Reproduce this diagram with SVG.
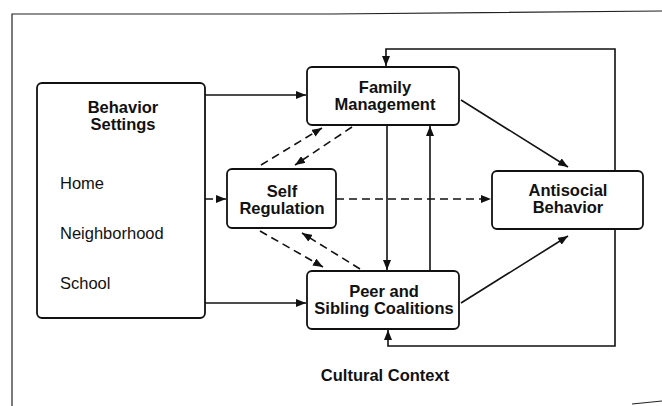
<svg xmlns="http://www.w3.org/2000/svg" width="662" height="406" viewBox="0 0 662 406">
<defs>
<marker id="ah" viewBox="0 0 10 8" refX="10" refY="4" markerWidth="10" markerHeight="8" markerUnits="userSpaceOnUse" orient="auto">
<path d="M0,0 L10,4 L0,8 z" fill="#111"/>
</marker>
<style>
.box{fill:#fff;stroke:#111;stroke-width:1.8}
.t{font-family:"Liberation Sans",Arial,sans-serif;font-size:16.5px;font-weight:bold;fill:#111;text-anchor:middle}
.r{font-family:"Liberation Sans",Arial,sans-serif;font-size:16.5px;fill:#111}
.ln{fill:none;stroke:#111;stroke-width:1.6;marker-end:url(#ah)}
.pl{fill:none;stroke:#111;stroke-width:1.6}
.ds{fill:none;stroke:#111;stroke-width:1.6;stroke-dasharray:8 5;marker-end:url(#ah)}
.fr{fill:none;stroke:#222;stroke-width:1.2}
</style>
</defs>
<rect width="662" height="406" fill="#fff"/>
<g id="frame">
<path class="fr" d="M12,406 L12,14 L330,14 L662,11"/>
<path class="fr" d="M632,404 L662,401"/>
</g>
<g id="connectors">
<path class="ln" d="M205,95 L306,95"/>
<path class="ln" d="M205,303 L306,303"/>
<path class="ds" d="M205,199 L226,199"/>
<path class="ds" d="M336,199 L491,199"/>
<path class="ln" d="M387,125 L387,270"/>
<path class="ln" d="M430,271 L430,126"/>
<path class="ln" d="M461,100 L568,167"/>
<path class="ln" d="M461,303 L568,236"/>
<path class="ln" d="M615,171 L615,49 L386,49 L386,66"/>
<path class="ln" d="M615,229 L615,346 L388,346 L388,330"/>
<path class="ds" d="M261,165 L322,128"/>
<path class="ds" d="M352,127 L295,165"/>
<path class="ds" d="M260,231 L323,267"/>
<path class="ds" d="M360,269 L302,233"/>
</g>
<g id="behavior-settings">
<rect class="box" x="37" y="83" width="168" height="235" rx="5"/>
<text class="t" x="123" y="113">Behavior</text>
<text class="t" x="123" y="130">Settings</text>
<text class="r" x="60" y="189">Home</text>
<text class="r" x="60" y="239">Neighborhood</text>
<text class="r" x="60" y="289">School</text>
</g>
<g id="family-management">
<rect class="box" x="307" y="67" width="152" height="58" rx="5"/>
<text class="t" x="385" y="93">Family</text>
<text class="t" x="385" y="110">Management</text>
</g>
<g id="self-regulation">
<rect class="box" x="227" y="169" width="109" height="59" rx="5"/>
<text class="t" x="282" y="197">Self</text>
<text class="t" x="282" y="214">Regulation</text>
</g>
<g id="antisocial-behavior">
<rect class="box" x="492" y="171" width="151" height="58" rx="5"/>
<text class="t" x="568" y="196">Antisocial</text>
<text class="t" x="568" y="213">Behavior</text>
</g>
<g id="peer-sibling">
<rect class="box" x="307" y="271" width="152" height="58" rx="5"/>
<text class="t" x="384" y="297">Peer and</text>
<text class="t" x="384" y="314">Sibling Coalitions</text>
</g>
<g id="cultural-context">
<text class="t" x="385" y="381">Cultural Context</text>
</g>
</svg>
